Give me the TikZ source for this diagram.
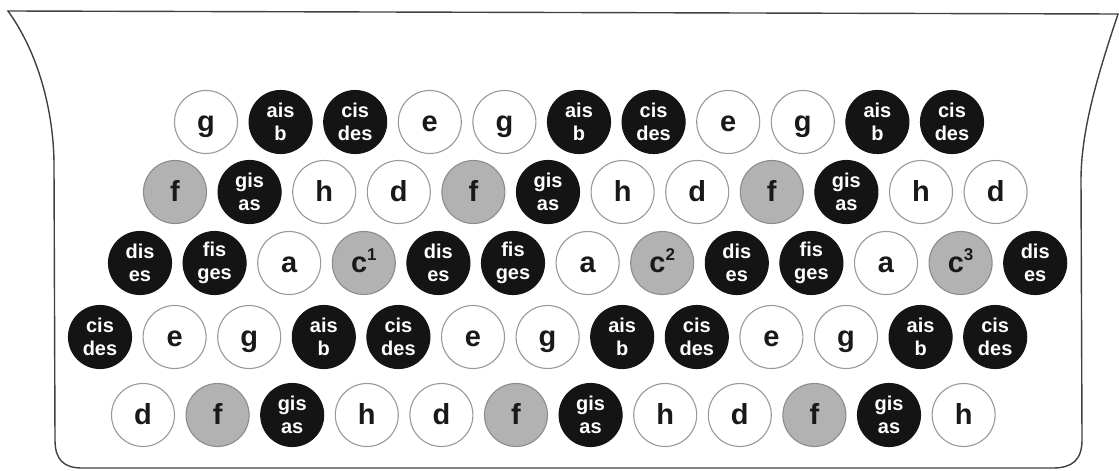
\documentclass[tikz,border=0pt]{standalone}
\usepackage{fontspec}
\setmainfont{Liberation Sans}
\newcommand\keysup[1]{\raisebox{12pt}{\fontsize{17}{17}\selectfont #1}}
\begin{document}
\begin{tikzpicture}[x=1pt,y=-1pt,
  key/.style={circle,minimum size=63pt,inner sep=0pt,line width=1.1pt,align=center,
    font=\bfseries\fontsize{29}{31}\selectfont,text height=19pt,text depth=0pt},
  keyw/.style={key,draw=black!40,fill=white,text=black!90},
  keyg/.style={key,draw=black!45,fill=black!30,text=black!90},
  keyb/.style={key,draw=black!92,fill=black!92,text=white,
    font=\bfseries\fontsize{20}{23}\selectfont,text height=,text depth=},
  outline/.style={draw=black!75,line width=1.4pt}]
\useasboundingbox (0,0) rectangle (1119,471);
% case outline
\draw[outline] (8,11) -- (1118,14)
  .. controls (1098,74) and (1081,130) .. (1081,180)
  -- (1082,440) .. controls (1082,460) and (1072,468) .. (1053,468)
  -- (82,468) .. controls (64,468) and (55,460) .. (55,440)
  -- (54,165) .. controls (54,120) and (42,58) .. (8,11) -- cycle;
% row 1
\foreach \s/\t [count=\i from 0] in {w/g, b/{ais\\b}, b/{cis\\des}, w/e, w/g, b/{ais\\b}, b/{cis\\des}, w/e, w/g, b/{ais\\b}, b/{cis\\des}}
  \node[key\s] (ra-\i) at (206+74.6*\i,122) {\t};
% row 2
\foreach \s/\t [count=\i from 0] in {g/f, b/{gis\\as}, w/h, w/d, g/f, b/{gis\\as}, w/h, w/d, g/f, b/{gis\\as}, w/h, w/d}
  \node[key\s] (rb-\i) at (175+74.6*\i,192) {\t};
% row 3
\foreach \s/\t [count=\i from 0] in {b/{dis\\es}, b/{fis\\ges}, w/a, g/{c\keysup{1}}, b/{dis\\es}, b/{fis\\ges}, w/a, g/{c\keysup{2}}, b/{dis\\es}, b/{fis\\ges}, w/a, g/{c\keysup{3}}, b/{dis\\es}}
  \node[key\s] (rc-\i) at (140+74.6*\i,263) {\t};
% row 4
\foreach \s/\t [count=\i from 0] in {b/{cis\\des}, w/e, w/g, b/{ais\\b}, b/{cis\\des}, w/e, w/g, b/{ais\\b}, b/{cis\\des}, w/e, w/g, b/{ais\\b}, b/{cis\\des}}
  \node[key\s] (rd-\i) at (100+74.6*\i,337) {\t};
% row 5
\foreach \s/\t [count=\i from 0] in {w/d, g/f, b/{gis\\as}, w/h, w/d, g/f, b/{gis\\as}, w/h, w/d, g/f, b/{gis\\as}, w/h}
  \node[key\s] (re-\i) at (143+74.6*\i,415) {\t};
\end{tikzpicture}
\end{document}
